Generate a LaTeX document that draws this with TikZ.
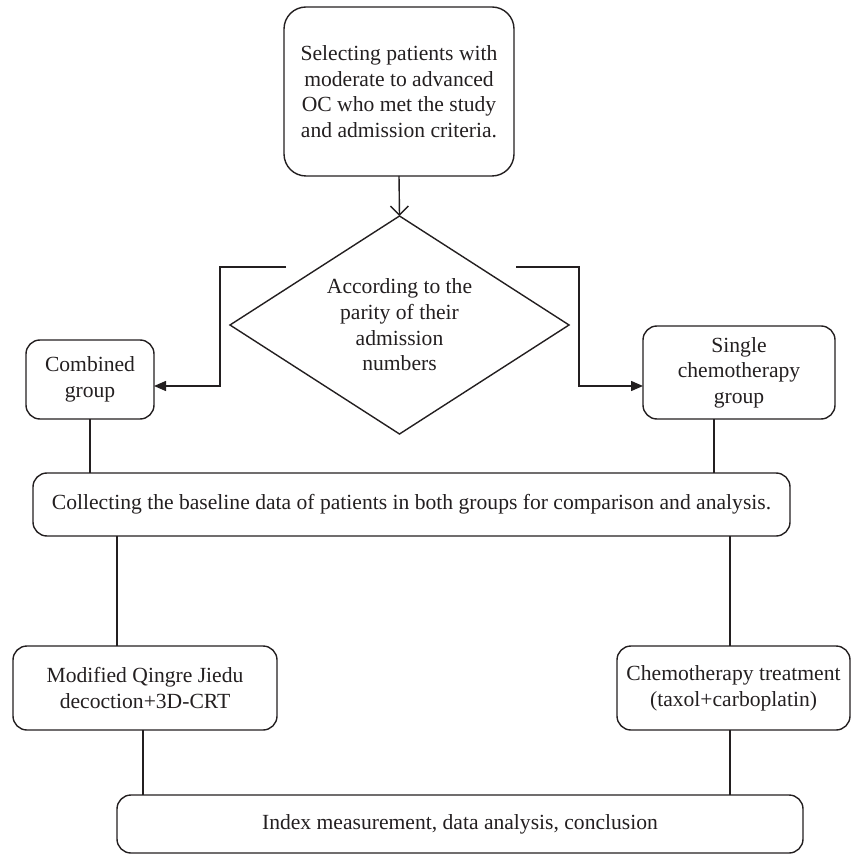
\documentclass[tikz,border=0pt]{standalone}
\usepackage{fontspec}
\setmainfont{Liberation Serif}
\usetikzlibrary{arrows.meta,shapes.geometric}
\definecolor{ink}{HTML}{231F20}
\tikzset{
	box/.style={draw=ink, text=ink, rounded corners=7pt, align=center, inner sep=0pt, outer sep=0pt, line width=0.7pt, font=\fontsize{10.8}{12.8}\selectfont},
	decision/.style={draw=ink, text=ink, shape=diamond, aspect=1.55, align=center, inner sep=0pt, outer sep=0pt, line width=0.7pt, font=\fontsize{10.8}{12.8}\selectfont},
	link/.style={draw=ink, line width=0.7pt},
	flow/.style={link, -{Triangle[length=6pt,width=5pt]}},
	enter/.style={link, -{Straight Barb[length=4.5pt,width=9pt]}}
}

\begin{document}
\begin{tikzpicture}[x=0.5pt,y=-0.5pt]
				\useasboundingbox (0,0) rectangle (851,854);
				
				\node[box, rounded corners=11pt, minimum width=115pt, minimum height=84.5pt] (select) at (399,91.5) {Selecting patients with\\moderate to advanced\\OC who met the study\\and admission criteria.};
				\node[decision, minimum width=169.5pt, minimum height=109pt] (parity) at (399.5,325) {According to the\\parity of their\\admission\\numbers};
				\node[box, minimum width=64pt, minimum height=39.5pt] (combined) at (90,379.5) {Combined\\group};
				\node[box, minimum width=96pt, minimum height=46.5pt] (single) at (739,372.5) {Single\\chemotherapy\\group};
				\node[box, minimum width=378.5pt, minimum height=31.5pt] (collect) at (411.5,504.5) {Collecting the baseline data of patients in both groups for comparison and analysis.};
				\node[box, minimum width=132pt, minimum height=42pt] (modified) at (145,688) {Modified Qingre Jiedu\\decoction+3D-CRT};
				\node[box, minimum width=116.5pt, minimum height=42pt] (chemo) at (733.5,688) {Chemotherapy treatment\\(taxol+carboplatin)};
				\node[box, minimum width=343pt, minimum height=29pt] (final) at (460,824) {Index measurement, data analysis, conclusion};
				
				\coordinate (lstart) at (286,267);
				\coordinate (lbend) at (220,386);
				\coordinate (rstart) at (516,267);
				\coordinate (rbend) at (579,386);
				\coordinate (singlex) at (714,0);
				\coordinate (modinx) at (117,0);
				\coordinate (modoutx) at (143,0);
				\coordinate (chemox) at (730,0);
				
				\draw[enter] (select.south) -- (parity.north);
				\draw[flow] (lstart) -| (lbend) -- (lbend -| combined.east);
				\draw[flow] (rstart) -| (rbend) -- (rbend -| single.west);
				
				\draw[link] (combined.south) -- (combined.south |- collect.north);
				\draw[link] (single.south -| singlex) -- (collect.north -| singlex);
				
				\draw[link] (collect.south -| modinx) -- (modified.north -| modinx);
				\draw[link] (collect.south -| chemox) -- (chemo.north -| chemox);
				
				\draw[link] (modified.south -| modoutx) -- (final.north -| modoutx);
				\draw[link] (chemo.south -| chemox) -- (final.north -| chemox);
			\end{tikzpicture}
\end{document}
